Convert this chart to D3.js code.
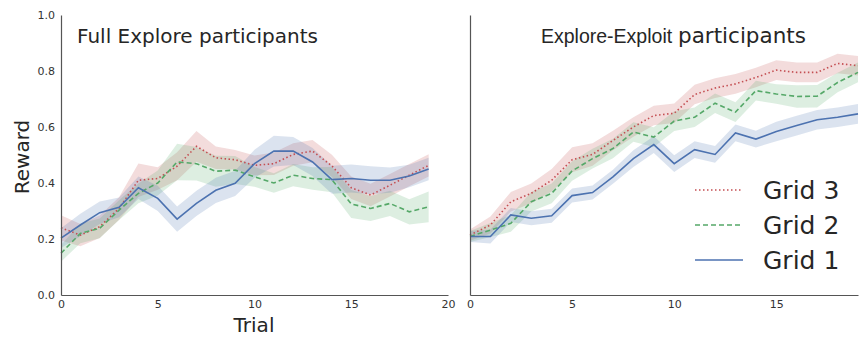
<!DOCTYPE html>
<html>
<head>
<meta charset="utf-8">
<script src="https://cdn.jsdelivr.net/npm/d3@7"></script>
<style>
  body { margin: 0; background: #fff; }
  text { font-family: "DejaVu Sans", sans-serif; }
</style>
</head>
<body>
<div id="chart"></div>
<script>
// svg container
var width = 862
var height = 337

// trials
var trials = d3.range(20)

// Full Explore participants (left panel)
var fullGrid1 = [0.203, 0.25, 0.294, 0.313, 0.383, 0.345, 0.271, 0.327, 0.374, 0.399, 0.469, 0.514, 0.514, 0.475, 0.412, 0.416, 0.41, 0.41, 0.425, 0.45]
var fullGrid1Err = [0.035, 0.04, 0.04, 0.035, 0.04, 0.045, 0.045, 0.045, 0.045, 0.045, 0.05, 0.055, 0.05, 0.05, 0.05, 0.05, 0.05, 0.045, 0.04, 0.04]
var fullGrid2 = [0.149, 0.22, 0.238, 0.303, 0.363, 0.4, 0.475, 0.469, 0.442, 0.446, 0.422, 0.4, 0.428, 0.416, 0.412, 0.325, 0.309, 0.327, 0.297, 0.315]
var fullGrid2Err = [0.03, 0.035, 0.035, 0.035, 0.035, 0.045, 0.065, 0.06, 0.055, 0.05, 0.035, 0.035, 0.04, 0.04, 0.045, 0.05, 0.045, 0.045, 0.045, 0.055]
var fullGrid3 = [0.24, 0.214, 0.244, 0.309, 0.41, 0.416, 0.46, 0.531, 0.49, 0.483, 0.463, 0.469, 0.502, 0.514, 0.461, 0.383, 0.357, 0.392, 0.428, 0.463]
var fullGrid3Err = [0.045, 0.04, 0.04, 0.04, 0.06, 0.04, 0.05, 0.055, 0.04, 0.035, 0.035, 0.04, 0.04, 0.04, 0.04, 0.04, 0.04, 0.04, 0.04, 0.04]

// Explore-Exploit participants (right panel)
var eeGrid1 = [0.209, 0.209, 0.286, 0.274, 0.283, 0.355, 0.366, 0.422, 0.487, 0.537, 0.469, 0.519, 0.502, 0.579, 0.557, 0.584, 0.605, 0.626, 0.635, 0.647]
var eeGrid1Err = [0.02, 0.025, 0.025, 0.025, 0.025, 0.025, 0.025, 0.025, 0.03, 0.03, 0.03, 0.03, 0.03, 0.03, 0.03, 0.035, 0.035, 0.035, 0.035, 0.035]
var eeGrid2 = [0.209, 0.232, 0.256, 0.333, 0.363, 0.443, 0.487, 0.523, 0.582, 0.564, 0.621, 0.635, 0.685, 0.653, 0.73, 0.718, 0.709, 0.71, 0.759, 0.795]
var eeGrid2Err = [0.02, 0.025, 0.03, 0.035, 0.035, 0.035, 0.035, 0.035, 0.035, 0.035, 0.035, 0.035, 0.035, 0.035, 0.035, 0.035, 0.04, 0.04, 0.035, 0.035]
var eeGrid3 = [0.214, 0.25, 0.333, 0.363, 0.41, 0.483, 0.502, 0.552, 0.6, 0.641, 0.649, 0.716, 0.739, 0.754, 0.777, 0.803, 0.795, 0.795, 0.827, 0.819]
var eeGrid3Err = [0.02, 0.03, 0.035, 0.035, 0.04, 0.045, 0.04, 0.035, 0.035, 0.035, 0.035, 0.035, 0.035, 0.035, 0.035, 0.035, 0.035, 0.035, 0.035, 0.035]

// tick labels
var yTicks = [0.0, 0.2, 0.4, 0.6, 0.8, 1.0]
var leftXTicks = [0, 5, 10, 15, 20]
var rightXTicks = [0, 5, 10, 15]

var legendNames = ['Grid 3', 'Grid 2', 'Grid 1']
var colors = { 'Grid 1': '#4c72b0', 'Grid 2': '#55a868', 'Grid 3': '#c44e52' }
var dashes = { 'Grid 1': null, 'Grid 2': '5,3', 'Grid 3': '1.5,2.5' }

var svg = d3.select('#chart').append('svg')
    .attr('width', width)
    .attr('height', height);

// shared y scale
var yScale = d3.scaleLinear().domain([0, 1]).range([295, 15]);

function drawPanel(opts) {
    var xScale = d3.scaleLinear().domain(opts.xDomain).range(opts.xRange);
    var g = svg.append('g');

    var area = d3.area()
        .x((d) => xScale(d.x))
        .y0((d) => yScale(d.y - d.e))
        .y1((d) => yScale(d.y + d.e));

    var line = d3.line()
        .x((d) => xScale(d.x))
        .y((d) => yScale(d.y));

    // bands first, then lines
    opts.series.forEach(function (s) {
        var pts = trials.map((t, i) => ({ x: t, y: s.values[i], e: s.err[i] }));
        g.append('path')
            .datum(pts)
            .attr('d', area)
            .attr('fill', colors[s.name])
            .attr('fill-opacity', 0.2);
    });
    opts.series.forEach(function (s) {
        var pts = trials.map((t, i) => ({ x: t, y: s.values[i] }));
        g.append('path')
            .datum(pts)
            .attr('d', line)
            .attr('fill', 'none')
            .attr('stroke', colors[s.name])
            .attr('stroke-width', 1.6)
            .attr('stroke-dasharray', dashes[s.name]);
    });

    // axes
    var xAxis = d3.axisBottom(xScale).tickValues(opts.xTicks).tickSize(0).tickPadding(5);
    var gx = g.append('g')
        .attr('transform', 'translate(0,295)')
        .call(xAxis);
    gx.select('.domain').attr('stroke', '#555').attr('stroke-width', 1.2);
    gx.selectAll('text').attr('font-size', 11).attr('fill', '#333').style('font-family', 'DejaVu Sans');

    var yAxis = d3.axisLeft(yScale).tickValues(yTicks).tickSize(0).tickPadding(6).tickFormat(d3.format('.1f'));
    var gy = g.append('g')
        .attr('transform', `translate(${opts.xRange[0]},0)`)
        .call(yAxis);
    gy.select('.domain').attr('stroke', '#555').attr('stroke-width', 1.2);
    if (opts.yLabels) {
        gy.selectAll('text').attr('font-size', 11).attr('fill', '#333').style('font-family', 'DejaVu Sans');
    } else {
        gy.selectAll('.tick').remove();
    }

    // title (each part may use its own font)
    var title = g.append('text')
        .attr('y', 43)
        .attr('font-size', 20)
        .attr('fill', '#262626');
    opts.title.forEach(function (part) {
        title.append('tspan')
            .attr('x', part.x)
            .style('font-family', part.font)
            .attr('font-size', part.size)
            .text(part.text);
    });

    return xScale;
}

drawPanel({
    xDomain: [0, 20], xRange: [61, 448], xTicks: leftXTicks, yLabels: true,
    title: [{ text: 'Full Explore participants', font: 'DejaVu Sans', size: 20, x: 77 }],
    series: [
        { name: 'Grid 3', values: fullGrid3, err: fullGrid3Err },
        { name: 'Grid 2', values: fullGrid2, err: fullGrid2Err },
        { name: 'Grid 1', values: fullGrid1, err: fullGrid1Err }
    ]
});

drawPanel({
    xDomain: [0, 19], xRange: [470, 858], xTicks: rightXTicks, yLabels: false,
    title: [
        { text: 'Explore-Exploit', font: 'Liberation Sans', size: 19.5, x: 541 },
        { text: 'participants', font: 'DejaVu Sans', size: 21.5, x: 678 }
    ],
    series: [
        { name: 'Grid 3', values: eeGrid3, err: eeGrid3Err },
        { name: 'Grid 2', values: eeGrid2, err: eeGrid2Err },
        { name: 'Grid 1', values: eeGrid1, err: eeGrid1Err }
    ]
});

// axis labels
svg.append('text')
    .attr('transform', 'translate(29,157) rotate(-90)')
    .attr('text-anchor', 'middle')
    .attr('font-size', 20)
    .attr('fill', '#262626')
    .text('Reward');

svg.append('text')
    .attr('x', 254)
    .attr('y', 332)
    .attr('text-anchor', 'middle')
    .attr('font-size', 20)
    .attr('fill', '#262626')
    .text('Trial');

// legend
var legend = svg.append('g');
legendNames.forEach(function (name, i) {
    var y = 190 + i * 35;
    legend.append('line')
        .attr('x1', 695).attr('x2', 743)
        .attr('y1', y).attr('y2', y)
        .attr('stroke', colors[name])
        .attr('stroke-width', 1.6)
        .attr('stroke-dasharray', dashes[name]);
    legend.append('text')
        .attr('x', 763)
        .attr('y', y)
        .attr('dy', '0.35em')
        .attr('font-size', 25)
        .attr('fill', '#262626')
        .text(name);
});
</script>
</body>
</html>
